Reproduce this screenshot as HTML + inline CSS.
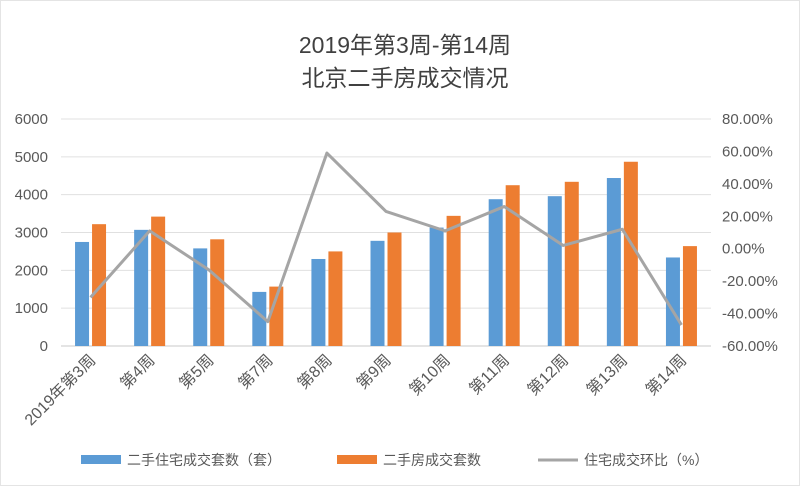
<!DOCTYPE html>
<html><head><meta charset="utf-8"><style>
body{margin:0;background:#fff;width:800px;height:486px;overflow:hidden;font-family:"Liberation Sans","Noto Sans CJK SC",sans-serif}
</style></head><body>
<svg id="chart" width="800" height="486" xmlns="http://www.w3.org/2000/svg" font-family="Liberation Sans, Noto Sans CJK SC, sans-serif">
<rect x="0" y="0" width="800" height="486" fill="#fff"/>
<rect x="0.5" y="0.5" width="799" height="485" fill="none" stroke="#e4e4e4"/>
<text x="405" y="53" text-anchor="middle" font-size="23" fill="#404040">2019年第3周-第14周</text>
<text x="405" y="86" text-anchor="middle" font-size="23" fill="#404040">北京二手房成交情况</text>
<g id="grid"></g><g id="bars"></g><g id="line"></g><g id="axes"></g>
<g font-size="14" fill="#595959">
<rect x="81" y="455" width="40" height="9" fill="#5b9bd5"/>
<text x="127" y="465">二手住宅成交套数（套）</text>
<rect x="337" y="455" width="40" height="9" fill="#ed7d31"/>
<text x="383" y="465">二手房成交套数</text>
<line x1="538" y1="460" x2="578" y2="460" stroke="#a5a5a5" stroke-width="3"/>
<text x="584" y="465">住宅成交环比（%）</text>
</g>
</svg>
<script>
const categories=["2019年第3周","第4周","第5周","第7周","第8周","第9周","第10周","第11周","第12周","第13周","第14周"];
const residentialSales=[2750,3070,2580,1430,2300,2780,3130,3880,3960,4440,2340];
const allSales=[3220,3420,2820,1570,2500,3000,3440,4250,4340,4870,2640];
const momPercent=[-30,11,-13,-45,59,23,11,26,2,12,-47];
const leftTicks=[0,1000,2000,3000,4000,5000,6000];
const rightTicks=[-60,-40,-20,0,20,40,60,80];
const NS="http://www.w3.org/2000/svg";
const X0=61,X1=711,Y0=346,Y1=119;
const step=(X1-X0)/categories.length;
const xc=i=>X0+step*(i+0.5);
const yL=v=>Y0-(v/6000)*(Y0-Y1);
const yR=v=>Y0-((v+60)/140)*(Y0-Y1);
function mk(tag,attrs,parent){const e=document.createElementNS(NS,tag);for(const k in attrs)e.setAttribute(k,attrs[k]);document.getElementById(parent).appendChild(e);return e;}
leftTicks.forEach(t=>{
  const g=mk('line',{x1:X0,x2:X1,y1:yL(t),y2:yL(t),stroke:t===0?'#c8c8c8':'#e0e0e0','stroke-width':1},'grid');
  
  
  const l=mk('text',{x:48,y:yL(t)+5,'text-anchor':'end','font-size':15,fill:'#595959'},'axes');
  l.textContent=t;
  
  
});
rightTicks.forEach(t=>{
  const l=mk('text',{x:722,y:yR(t)+5,'font-size':15,fill:'#595959'},'axes');
  l.textContent=t.toFixed(2)+'%';
  
  
});
categories.forEach((c,i)=>{
  const b=mk('rect',{x:xc(i)-15.5,y:yL(residentialSales[i]),width:14,height:Y0-yL(residentialSales[i]),fill:'#5b9bd5'},'bars');
  
  
  const o=mk('rect',{x:xc(i)+1.5,y:yL(allSales[i]),width:14,height:Y0-yL(allSales[i]),fill:'#ed7d31'},'bars');
  
  
  const t=mk('text',{x:0,y:0,'text-anchor':'end','font-size':16,fill:'#595959',transform:`translate(${xc(i)+6},${Y0+15}) rotate(-45)`},'axes');
  t.textContent=c;
  
  
});
const pts=momPercent.map((v,i)=>xc(i)+','+yR(v)).join(' ');
const pl=mk('polyline',{points:pts,fill:'none',stroke:'#a5a5a5','stroke-width':3,'stroke-linejoin':'round'},'line');


</script>
</body></html>
